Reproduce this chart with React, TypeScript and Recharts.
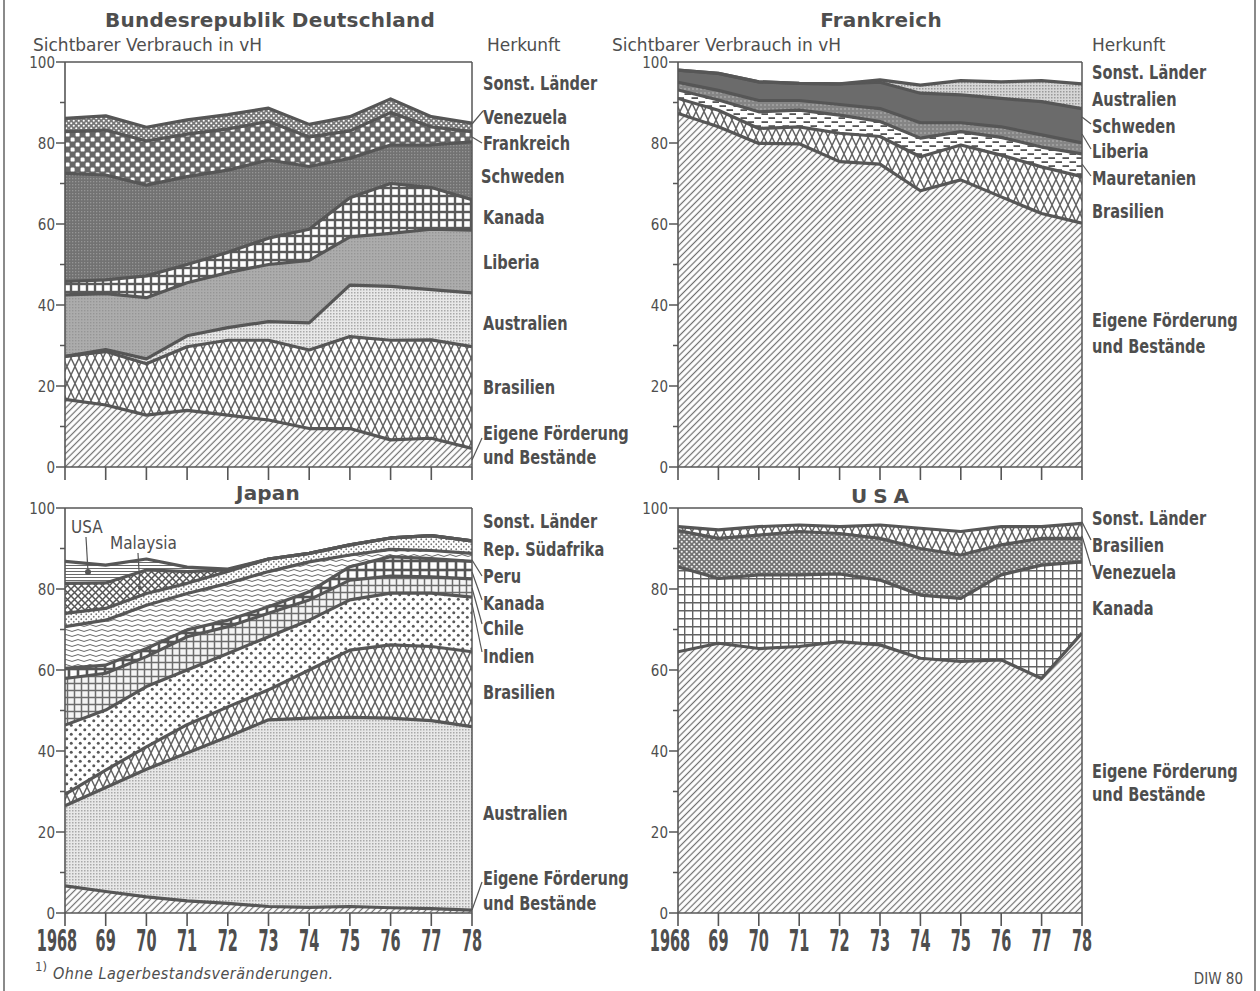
import React from 'react';
import { AreaChart, Area, XAxis, YAxis, ReferenceLine } from 'recharts';

// ---------- shared axis data ----------
const YEARS = [1968, 1969, 1970, 1971, 1972, 1973, 1974, 1975, 1976, 1977, 1978];
const YEAR_LABELS = ['1968', '69', '70', '71', '72', '73', '74', '75', '76', '77', '78'];
const Y_TICKS = [0, 10, 20, 30, 40, 50, 60, 70, 80, 90, 100];

// ---------- Bundesrepublik Deutschland (Anteile in vH) ----------
const BRD_EIGENE = [16.7, 15.3, 12.8, 14.0, 12.8, 11.6, 9.5, 9.5, 6.7, 7.1, 4.6];
const BRD_BRASILIEN = [10.6, 13.2, 12.7, 15.7, 18.5, 19.7, 19.4, 22.7, 24.6, 24.3, 25.1];
const BRD_AUSTRALIEN = [0, 0.5, 1.2, 2.7, 3.1, 4.6, 6.7, 12.7, 13.3, 12.4, 13.3];
const BRD_LIBERIA = [15.2, 13.8, 15.1, 13.1, 13.6, 14.1, 15.4, 11.9, 13.1, 14.9, 15.5];
const BRD_KANADA = [3.3, 3.4, 5.4, 4.5, 5.0, 6.5, 7.7, 9.7, 12.3, 10.3, 7.5];
const BRD_SCHWEDEN = [26.7, 25.9, 22.4, 21.7, 20.3, 19.3, 15.5, 9.7, 9.5, 10.5, 14.3];
const BRD_FRANKREICH = [10.3, 11.1, 10.9, 10.5, 10.2, 9.5, 7.3, 6.8, 8.0, 4.5, 2.5];
const BRD_VENEZUELA = [3.3, 3.5, 3.4, 3.5, 3.5, 3.3, 3.1, 3.5, 3.4, 2.5, 2.1];
const BRD_SONSTIGE = [13.9, 13.3, 16.1, 14.3, 13.0, 11.4, 15.4, 13.5, 9.1, 13.5, 15.1];

// ---------- Frankreich ----------
const FR_EIGENE = [87.3, 84.0, 79.9, 79.8, 75.4, 74.8, 68.2, 70.9, 66.7, 62.6, 60.2];
const FR_BRASILIEN = [3.7, 4.1, 3.7, 4.2, 7.0, 6.8, 8.4, 8.6, 10.3, 11.5, 11.5];
const FR_MAURETANIEN = [2.1, 2.5, 4.1, 4.1, 4.5, 3.7, 4.6, 3.3, 4.4, 4.9, 5.6];
const FR_LIBERIA = [1.9, 2.4, 2.8, 2.4, 2.6, 3.2, 3.8, 2.2, 2.6, 3.0, 2.7];
const FR_SCHWEDEN = [3.0, 4.2, 4.6, 4.2, 5.1, 6.5, 7.3, 6.9, 7.0, 8.2, 8.5];
const FR_AUSTRALIEN = [0, 0, 0, 0, 0, 0.6, 2.0, 3.5, 4.1, 5.2, 6.1];
const FR_SONSTIGE = [2.0, 2.8, 4.9, 5.3, 5.4, 4.4, 5.7, 4.6, 4.9, 4.6, 5.4];

// ---------- Japan ----------
const JP_EIGENE = [6.7, 5.3, 4.0, 3.0, 2.4, 1.6, 1.4, 1.6, 1.3, 1.1, 0.7];
const JP_AUSTRALIEN = [19.8, 25.7, 31.5, 36.5, 41.1, 46.1, 46.7, 46.7, 46.8, 46.4, 45.3];
const JP_BRASILIEN = [2.8, 4.3, 5.5, 7.0, 7.4, 7.4, 11.9, 16.6, 18.1, 18.3, 18.5];
const JP_INDIEN = [17.1, 14.8, 14.9, 13.5, 13.2, 13.1, 12.3, 12.4, 12.8, 13.2, 13.5];
const JP_CHILE = [11.5, 9.1, 7.4, 8.2, 6.6, 5.8, 5.0, 4.9, 4.2, 4.0, 4.5];
const JP_KANADA = [2.5, 2.0, 2.0, 1.7, 1.6, 1.6, 2.0, 3.3, 4.8, 4.5, 4.3];
const JP_PERU = [10.3, 11.1, 10.7, 9.0, 9.1, 8.7, 7.4, 2.9, 1.8, 2.0, 2.0];
const JP_SUEDAFRIKA = [3.3, 2.9, 2.9, 2.5, 2.9, 3.1, 2.1, 2.5, 2.8, 3.7, 3.1];
const JP_MALAYSIA = [7.4, 6.3, 5.8, 2.9, 0.4, 0, 0, 0, 0, 0, 0];
const JP_USA = [5.4, 4.4, 2.7, 1.1, 0.2, 0, 0, 0, 0, 0, 0];
const JP_SONSTIGE = [13.2, 14.1, 12.6, 14.6, 15.1, 12.6, 11.2, 9.1, 7.4, 6.8, 8.1];

// ---------- USA ----------
const US_EIGENE = [64.5, 66.6, 65.3, 65.8, 67.0, 66.2, 62.9, 62.1, 62.5, 57.9, 69.1];
const US_KANADA = [21.0, 16.0, 18.2, 17.7, 16.7, 16.0, 15.6, 15.6, 21.0, 28.0, 17.6];
const US_VENEZUELA = [8.9, 9.9, 9.8, 10.7, 10.0, 10.3, 11.5, 10.7, 7.4, 6.6, 5.8];
const US_BRASILIEN = [1.0, 2.1, 2.1, 1.6, 1.7, 3.3, 5.0, 5.8, 4.5, 2.9, 3.7];
const US_SONSTIGE = [4.6, 5.4, 4.6, 4.2, 4.6, 4.2, 5.0, 5.8, 4.6, 4.6, 3.8];

type Series = { key: string; name: string; values: number[] };

const BRD_SERIES: Series[] = [
  { key: 'eigene', name: 'Eigene Förderung und Bestände', values: BRD_EIGENE },
  { key: 'brasilien', name: 'Brasilien', values: BRD_BRASILIEN },
  { key: 'australien', name: 'Australien', values: BRD_AUSTRALIEN },
  { key: 'liberia', name: 'Liberia', values: BRD_LIBERIA },
  { key: 'kanada', name: 'Kanada', values: BRD_KANADA },
  { key: 'schweden', name: 'Schweden', values: BRD_SCHWEDEN },
  { key: 'frankreich', name: 'Frankreich', values: BRD_FRANKREICH },
  { key: 'venezuela', name: 'Venezuela', values: BRD_VENEZUELA },
  { key: 'sonstige', name: 'Sonst. Länder', values: BRD_SONSTIGE },
];
const FR_SERIES: Series[] = [
  { key: 'eigene', name: 'Eigene Förderung und Bestände', values: FR_EIGENE },
  { key: 'brasilien', name: 'Brasilien', values: FR_BRASILIEN },
  { key: 'mauretanien', name: 'Mauretanien', values: FR_MAURETANIEN },
  { key: 'liberia', name: 'Liberia', values: FR_LIBERIA },
  { key: 'schweden', name: 'Schweden', values: FR_SCHWEDEN },
  { key: 'australien', name: 'Australien', values: FR_AUSTRALIEN },
  { key: 'sonstige', name: 'Sonst. Länder', values: FR_SONSTIGE },
];
const JP_SERIES: Series[] = [
  { key: 'eigene', name: 'Eigene Förderung und Bestände', values: JP_EIGENE },
  { key: 'australien', name: 'Australien', values: JP_AUSTRALIEN },
  { key: 'brasilien', name: 'Brasilien', values: JP_BRASILIEN },
  { key: 'indien', name: 'Indien', values: JP_INDIEN },
  { key: 'chile', name: 'Chile', values: JP_CHILE },
  { key: 'kanada', name: 'Kanada', values: JP_KANADA },
  { key: 'peru', name: 'Peru', values: JP_PERU },
  { key: 'suedafrika', name: 'Rep. Südafrika', values: JP_SUEDAFRIKA },
  { key: 'malaysia', name: 'Malaysia', values: JP_MALAYSIA },
  { key: 'usa', name: 'USA', values: JP_USA },
  { key: 'sonstige', name: 'Sonst. Länder', values: JP_SONSTIGE },
];
const US_SERIES: Series[] = [
  { key: 'eigene', name: 'Eigene Förderung und Bestände', values: US_EIGENE },
  { key: 'kanada', name: 'Kanada', values: US_KANADA },
  { key: 'venezuela', name: 'Venezuela', values: US_VENEZUELA },
  { key: 'brasilien', name: 'Brasilien', values: US_BRASILIEN },
  { key: 'sonstige', name: 'Sonst. Länder', values: US_SONSTIGE },
];

// ---------- styles ----------
const INK = '#4e4e4e';
const LINE = '#565656';
const LABEL_FONT = "'DejaVu Sans Condensed', 'DejaVu Sans', sans-serif";
const TEXT_FONT = "'DejaVu Sans', sans-serif";

const BRD_FILLS: Record<string, string> = {
  eigene: 'url(#pHatch)', brasilien: 'url(#pDiamond)', australien: 'url(#pFine)', liberia: 'url(#pGrey)',
  kanada: 'url(#pGrid)', schweden: 'url(#pDarkDots)', frankreich: 'url(#pBigWhite)', venezuela: 'url(#pSmallWhite)',
  sonstige: '#ffffff',
};
const FR_FILLS: Record<string, string> = {
  eigene: 'url(#pHatch)', brasilien: 'url(#pDiamond)', mauretanien: 'url(#pDash)', liberia: 'url(#pMottle)',
  schweden: '#6b6b6b', australien: 'url(#pFine2)', sonstige: '#ffffff',
};
const JP_FILLS: Record<string, string> = {
  eigene: 'url(#pHatch)', australien: 'url(#pFine)', brasilien: 'url(#pDiamond)', indien: 'url(#pIndDots)',
  chile: 'url(#pPlus)', kanada: 'url(#pGridJ)', peru: 'url(#pWave)', suedafrika: 'url(#pSparse)',
  malaysia: 'url(#pCross)', usa: 'url(#pHLines)', sonstige: '#ffffff',
};
const US_FILLS: Record<string, string> = {
  eigene: 'url(#pHatch)', kanada: 'url(#pGridU)', venezuela: 'url(#pVenU)', brasilien: 'url(#pDiamond)',
  sonstige: '#ffffff',
};

function buildRows(series: Series[]) {
  return YEARS.map((year, i) => {
    const row: Record<string, number> = { year };
    series.forEach((s) => { row[s.key] = s.values[i]; });
    return row;
  });
}

const Patterns = () => (
  <svg width={0} height={0} style={{ position: 'absolute', left: 0, top: 0 }}>
    <defs>
      <pattern id="pHatch" width={4.6} height={4.6} patternUnits="userSpaceOnUse" patternTransform="rotate(45)">
        <rect width={4.6} height={4.6} fill="#fff" />
        <line x1={2.3} y1={0} x2={2.3} y2={4.6} stroke="#6e6e6e" strokeWidth={1.2} />
      </pattern>
      <pattern id="pDiamond" width={8} height={17} patternUnits="userSpaceOnUse">
        <rect width={8} height={17} fill="#fff" />
        <path d="M0,0 L8,17 M8,0 L0,17" stroke="#616161" strokeWidth={1.4} fill="none" />
      </pattern>
      <pattern id="pFine" width={3} height={3} patternUnits="userSpaceOnUse">
        <rect width={3} height={3} fill="#e8e8e8" />
        <rect width={1.5} height={1.5} fill="#a9a9a9" />
      </pattern>
      <pattern id="pFine2" width={3} height={3} patternUnits="userSpaceOnUse">
        <rect width={3} height={3} fill="#d6d6d6" />
        <rect width={1.5} height={1.5} fill="#999" />
      </pattern>
      <pattern id="pGrey" width={3} height={3} patternUnits="userSpaceOnUse">
        <rect width={3} height={3} fill="#acacac" />
        <rect width={1.4} height={1.4} fill="#959595" />
      </pattern>
      <pattern id="pGrid" width={8} height={8} patternUnits="userSpaceOnUse">
        <rect width={8} height={8} fill="#5a5a5a" />
        <rect x={1.2} y={1.2} width={5.6} height={5.6} fill="#fff" />
      </pattern>
      <pattern id="pDarkDots" width={3} height={3} patternUnits="userSpaceOnUse">
        <rect width={3} height={3} fill="#727272" />
        <rect width={1.3} height={1.3} fill="#959595" />
      </pattern>
      <pattern id="pBigWhite" width={10} height={10} patternUnits="userSpaceOnUse">
        <rect width={10} height={10} fill="#666" />
        <rect x={0.6} y={0.6} width={4} height={4} rx={1.2} fill="#fff" />
        <rect x={5.6} y={5.6} width={4} height={4} rx={1.2} fill="#fff" />
      </pattern>
      <pattern id="pSmallWhite" width={5} height={5} patternUnits="userSpaceOnUse">
        <rect width={5} height={5} fill="#777" />
        <circle cx={1.25} cy={1.25} r={1.05} fill="#fff" />
        <circle cx={3.75} cy={3.75} r={1.05} fill="#fff" />
      </pattern>
      <pattern id="pDash" width={14} height={8} patternUnits="userSpaceOnUse">
        <rect width={14} height={8} fill="#fff" />
        <rect x={0.5} y={1.2} width={6.5} height={1.8} fill="#555" />
        <rect x={7.5} y={5.2} width={6.5} height={1.8} fill="#555" />
      </pattern>
      <pattern id="pMottle" width={4} height={4} patternUnits="userSpaceOnUse">
        <rect width={4} height={4} fill="#858585" />
        <rect width={2} height={2} fill="#9c9c9c" />
      </pattern>
      <pattern id="pIndDots" width={9} height={9} patternUnits="userSpaceOnUse">
        <rect width={9} height={9} fill="#fff" />
        <circle cx={2.25} cy={2.25} r={1.5} fill="#595959" />
        <circle cx={6.75} cy={6.75} r={1.5} fill="#595959" />
      </pattern>
      <pattern id="pPlus" width={7} height={7} patternUnits="userSpaceOnUse">
        <rect width={7} height={7} fill="#f4f4f4" />
        <path d="M3.5,0 V7 M0,3.5 H7" stroke="#6c6c6c" strokeWidth={1.5} />
      </pattern>
      <pattern id="pGridJ" width={9} height={9} patternUnits="userSpaceOnUse">
        <rect width={9} height={9} fill="#555" />
        <rect x={1.3} y={1.3} width={6.4} height={6.4} fill="#fff" />
      </pattern>
      <pattern id="pWave" width={12} height={5} patternUnits="userSpaceOnUse">
        <rect width={12} height={5} fill="#fff" />
        <path d="M0,2.5 Q3,0.6 6,2.5 T12,2.5" stroke="#666" strokeWidth={1} fill="none" />
      </pattern>
      <pattern id="pSparse" width={5} height={5} patternUnits="userSpaceOnUse">
        <rect width={5} height={5} fill="#fff" />
        <circle cx={1.25} cy={1.25} r={0.9} fill="#777" />
        <circle cx={3.75} cy={3.75} r={0.9} fill="#777" />
      </pattern>
      <pattern id="pCross" width={7} height={7} patternUnits="userSpaceOnUse">
        <rect width={7} height={7} fill="#fff" />
        <path d="M0,0 L7,7 M7,0 L0,7" stroke="#555" strokeWidth={1.5} />
      </pattern>
      <pattern id="pHLines" width={3} height={3} patternUnits="userSpaceOnUse">
        <rect width={3} height={3} fill="#fff" />
        <line x1={0} y1={1.5} x2={3} y2={1.5} stroke="#6a6a6a" strokeWidth={1} />
      </pattern>
      <pattern id="pGridU" width={8} height={8} patternUnits="userSpaceOnUse">
        <rect width={8} height={8} fill="#fff" />
        <path d="M0.7,0 V8 M0,0.7 H8" stroke="#626262" strokeWidth={1.4} />
      </pattern>
      <pattern id="pVenU" width={5} height={5} patternUnits="userSpaceOnUse">
        <rect width={5} height={5} fill="#727272" />
        <circle cx={1.25} cy={1.25} r={1.1} fill="#f4f4f4" />
        <circle cx={3.75} cy={3.75} r={1.1} fill="#f4f4f4" />
      </pattern>
    </defs>
  </svg>
);

function XTick(props: any) {
  const { x, y, payload, show } = props;
  const i = YEARS.indexOf(payload.value);
  const dx = i === 0 ? -8 : 0;
  return (
    <g>
      <line x1={x} x2={x} y1={y} y2={y + 13} stroke={LINE} strokeWidth={1.6} />
      {show && (
        <text
          transform={`translate(${x + dx},${y + 38}) scale(0.52,1)`}
          textAnchor="middle"
          fontFamily={LABEL_FONT}
          fontWeight="bold"
          fontSize={31}
          fill={INK}
        >
          {YEAR_LABELS[i]}
        </text>
      )}
    </g>
  );
}

function YTick(props: any) {
  const { x, y, payload } = props;
  const v = payload.value;
  const major = v % 20 === 0;
  return (
    <g>
      <line x1={x - (major ? 9 : 5)} x2={x} y1={y} y2={y} stroke={LINE} strokeWidth={1.5} />
      {major && (
        <text x={x - 10} y={y + 5.5} textAnchor="end" fontFamily={LABEL_FONT} fontSize={15} fill={INK}>
          {v}
        </text>
      )}
    </g>
  );
}

const ML = 50;
const MT = 10;
const MR = 20;
const MB = 50;

function Panel(props: {
  plotLeft: number; plotTop: number; plotWidth: number; plotHeight: number;
  series: Series[]; fills: Record<string, string>; showYearLabels: boolean;
}) {
  const { plotLeft, plotTop, plotWidth, plotHeight, series, fills, showYearLabels } = props;
  const data = buildRows(series);
  return (
    <div style={{ position: 'absolute', left: plotLeft - ML, top: plotTop - MT }}>
      <AreaChart
        width={plotWidth + ML + MR}
        height={plotHeight + MT + MB}
        data={data}
        margin={{ top: MT, right: MR, left: 0, bottom: 0 }}
      >
        <XAxis
          dataKey="year"
          type="number"
          domain={[1968, 1978]}
          ticks={YEARS}
          interval={0}
          height={MB}
          tickSize={0}
          tickMargin={0}
          tickLine={false}
          axisLine={{ stroke: LINE, strokeWidth: 1.6 }}
          tick={(p: any) => <XTick {...p} show={showYearLabels} />}
          allowDataOverflow
        />
        <YAxis
          type="number"
          domain={[0, 100]}
          ticks={Y_TICKS}
          interval={0}
          width={ML}
          tickSize={0}
          tickMargin={0}
          tickLine={false}
          axisLine={{ stroke: LINE, strokeWidth: 1.6 }}
          tick={(p: any) => <YTick {...p} />}
          allowDataOverflow
        />
        {series.map((s) => (
          <Area
            key={`f-${s.key}`}
            dataKey={s.key}
            name={s.name}
            stackId="fill"
            type="linear"
            fill={fills[s.key]}
            fillOpacity={1}
            stroke="none"
            dot={false}
            activeDot={false}
            isAnimationActive={false}
          />
        ))}
        {series.filter((s) => s.key !== 'sonstige').map((s) => (
          <Area
            key={`l-${s.key}`}
            dataKey={s.key}
            name={s.name}
            stackId="line"
            type="linear"
            fill="none"
            stroke={LINE}
            strokeWidth={3.2}
            strokeLinejoin="round"
            dot={false}
            activeDot={false}
            isAnimationActive={false}
          />
        ))}
        <ReferenceLine y={100} stroke={LINE} strokeWidth={1.5} />
        <ReferenceLine x={1978} stroke={LINE} strokeWidth={1.5} />
      </AreaChart>
    </div>
  );
}

// ---------- layout of side labels ----------
type Lab = { text: string; x: number; y: number };
const BRD_LABELS: Lab[] = [
  { text: 'Sonst. Länder', x: 483, y: 90 },
  { text: 'Venezuela', x: 483, y: 124 },
  { text: 'Frankreich', x: 483, y: 150 },
  { text: 'Schweden', x: 481, y: 183 },
  { text: 'Kanada', x: 483, y: 224 },
  { text: 'Liberia', x: 483, y: 269 },
  { text: 'Australien', x: 483, y: 330 },
  { text: 'Brasilien', x: 483, y: 394 },
  { text: 'Eigene Förderung', x: 483, y: 440 },
  { text: 'und Bestände', x: 483, y: 464 },
];
const FR_LABELS: Lab[] = [
  { text: 'Sonst. Länder', x: 1092, y: 79 },
  { text: 'Australien', x: 1092, y: 106 },
  { text: 'Schweden', x: 1092, y: 133 },
  { text: 'Liberia', x: 1092, y: 158 },
  { text: 'Mauretanien', x: 1092, y: 185 },
  { text: 'Brasilien', x: 1092, y: 218 },
  { text: 'Eigene Förderung', x: 1092, y: 327 },
  { text: 'und Bestände', x: 1092, y: 353 },
];
const JP_LABELS: Lab[] = [
  { text: 'Sonst. Länder', x: 483, y: 528 },
  { text: 'Rep. Südafrika', x: 483, y: 556 },
  { text: 'Peru', x: 483, y: 583 },
  { text: 'Kanada', x: 483, y: 610 },
  { text: 'Chile', x: 483, y: 635 },
  { text: 'Indien', x: 483, y: 663 },
  { text: 'Brasilien', x: 483, y: 699 },
  { text: 'Australien', x: 483, y: 820 },
  { text: 'Eigene Förderung', x: 483, y: 885 },
  { text: 'und Bestände', x: 483, y: 910 },
];
const US_LABELS: Lab[] = [
  { text: 'Sonst. Länder', x: 1092, y: 525 },
  { text: 'Brasilien', x: 1092, y: 552 },
  { text: 'Venezuela', x: 1092, y: 579 },
  { text: 'Kanada', x: 1092, y: 615 },
  { text: 'Eigene Förderung', x: 1092, y: 778 },
  { text: 'und Bestände', x: 1092, y: 801 },
];
const POINTERS: number[][] = [
  [472, 124, 483, 111], [472, 137, 482, 143], [472, 460, 482, 438],
  [1082, 117, 1091, 124], [1082, 134, 1091, 149], [1082, 164, 1091, 176],
  [472, 560, 482, 576], [472, 572, 482, 600], [472, 588, 482, 624], [472, 604, 482, 652], [472, 910, 482, 882],
  [1082, 522, 1091, 540], [1082, 536, 1091, 566],
];

function SideLabel({ text, x, y }: Lab) {
  return (
    <text transform={`translate(${x},${y}) scale(0.81,1)`} fontFamily={LABEL_FONT} fontWeight="bold" fontSize={20} fill={INK}>
      {text}
    </text>
  );
}

const Overlay = () => (
  <svg width={1260} height={991} style={{ position: 'absolute', left: 0, top: 0, pointerEvents: 'none' }}>
    <line x1={4} y1={0} x2={4} y2={991} stroke="#8a8a8a" strokeWidth={2} />
    <line x1={1255} y1={0} x2={1255} y2={991} stroke="#8a8a8a" strokeWidth={2} />

    <g fontFamily={TEXT_FONT} fontWeight="bold" fontSize={20} fill={INK} textAnchor="middle" letterSpacing={0.2}>
      <text x={270} y={27}>Bundesrepublik Deutschland</text>
      <text x={881} y={27}>Frankreich</text>
      <text x={268} y={500}>Japan</text>
      <text x={883} y={503} letterSpacing={6}>USA</text>
    </g>
    <g fontFamily={TEXT_FONT} fontSize={17} fill={INK}>
      <text x={33} y={51}>Sichtbarer Verbrauch in vH</text>
      <text x={612} y={51}>Sichtbarer Verbrauch in vH</text>
      <text x={487} y={51}>Herkunft</text>
      <text x={1092} y={51}>Herkunft</text>
    </g>

    {[...BRD_LABELS, ...FR_LABELS, ...JP_LABELS, ...US_LABELS].map((l, i) => (
      <SideLabel key={i} {...l} />
    ))}
    {POINTERS.map((p, i) => (
      <line key={i} x1={p[0]} y1={p[1]} x2={p[2]} y2={p[3]} stroke={LINE} strokeWidth={1.2} />
    ))}

    <g fontFamily={LABEL_FONT} fontSize={17} fill={INK}>
      <text x={71} y={533}>USA</text>
      <text x={110} y={549}>Malaysia</text>
    </g>
    <line x1={86} y1={537} x2={88} y2={572} stroke={LINE} strokeWidth={1.2} />
    <circle cx={88} cy={572} r={3} fill={LINE} />
    <line x1={138} y1={553} x2={140} y2={588} stroke={LINE} strokeWidth={1.2} />
    <circle cx={140} cy={588} r={2} fill={LINE} />

    <text x={35} y={971} fontFamily={LABEL_FONT} fontSize={13} fill={INK}>1)</text>
    <text x={53} y={979} fontFamily={LABEL_FONT} fontStyle="italic" fontSize={16} letterSpacing={0.5} fill={INK}>
      Ohne Lagerbestandsveränderungen.
    </text>
    <text x={1243} y={984} textAnchor="end" fontFamily={LABEL_FONT} fontSize={15} fill={INK}>DIW 80</text>
  </svg>
);

export default function App() {
  return (
    <div style={{ position: 'absolute', left: 0, top: 0, width: 1260, height: 991, background: '#fff', overflow: 'hidden' }}>
      <Patterns />
      <Panel plotLeft={65} plotTop={62} plotWidth={407} plotHeight={405} series={BRD_SERIES} fills={BRD_FILLS} showYearLabels={false} />
      <Panel plotLeft={678} plotTop={62} plotWidth={404} plotHeight={405} series={FR_SERIES} fills={FR_FILLS} showYearLabels={false} />
      <Panel plotLeft={65} plotTop={508} plotWidth={407} plotHeight={405} series={JP_SERIES} fills={JP_FILLS} showYearLabels={true} />
      <Panel plotLeft={678} plotTop={508} plotWidth={404} plotHeight={405} series={US_SERIES} fills={US_FILLS} showYearLabels={true} />
      <Overlay />
    </div>
  );
}
